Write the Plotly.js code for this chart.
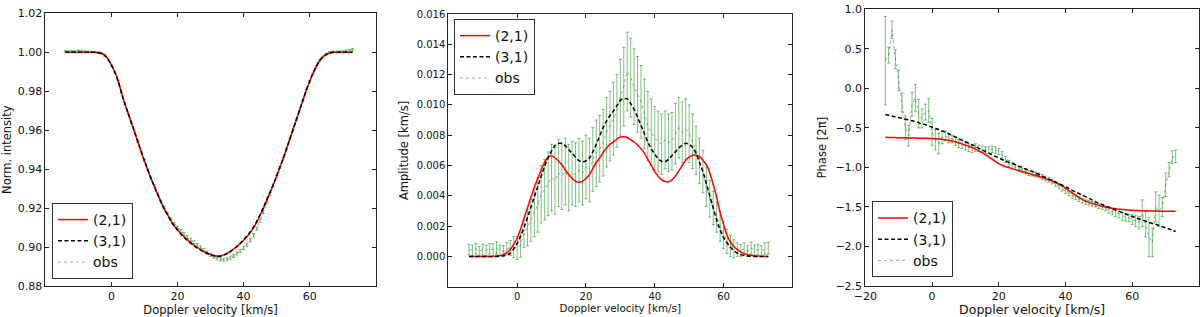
<!DOCTYPE html>
<html>
<head>
<meta charset="utf-8">
<script src="https://cdn.plot.ly/plotly-3.0.1.min.js"></script>
<style>html,body{margin:0;padding:0;background:#fff;}#chart{width:1200px;height:317px;}</style>
</head>
<body>
<div id="chart"></div>
<script>
// Doppler velocity grid [km/s]
const vel = [-14,-13,-12,-11,-10,-9,-8,-7,-6,-5,-4,-3,-2,-1,
0,1,2,3,4,5,6,7,8,9,10,11,12,13,14,15,16,17,18,19,
20,21,22,23,24,25,26,27,28,29,30,31,32,33,34,35,36,37,38,39,
40,41,42,43,44,45,46,47,48,49,50,51,52,53,54,55,56,57,58,59,
60,61,62,63,64,65,66,67,68,69,70,71,72,73];

const seriesNames = ['(2,1)', '(3,1)', 'obs'];

// Panel 1: normalised intensity
const intModel21 = [1.0000,1.0000,1.0000,1.0000,1.0000,1.0000,1.0000,1.0000,1.0000,1.0000,
0.9998,0.9995,0.9985,0.9965,
0.9935,0.9900,0.9855,0.9795,0.9740,0.9690,0.9640,0.9590,0.9540,0.9490,
0.9440,0.9395,0.9350,0.9310,0.9270,0.9230,0.9195,0.9165,0.9135,0.9110,
0.9090,0.9070,0.9052,0.9037,0.9023,0.9010,0.8998,0.8987,0.8977,0.8969,
0.8962,0.8957,0.8954,0.8955,0.8960,0.8968,0.8978,0.8990,0.9003,0.9018,
0.9035,0.9053,0.9073,0.9098,0.9128,0.9162,0.9200,0.9240,0.9280,0.9320,
0.9365,0.9410,0.9455,0.9505,0.9555,0.9605,0.9655,0.9705,0.9755,0.9805,
0.9850,0.9890,0.9925,0.9955,0.9975,0.9988,0.9996,1.0000,1.0000,1.0000,
1.0000,1.0000,1.0000,1.0000];
const intModel31 = [1.0000,1.0000,1.0000,1.0000,1.0000,1.0000,1.0000,1.0000,1.0000,1.0000,
0.9998,0.9994,0.9984,0.9964,
0.9934,0.9898,0.9853,0.9794,0.9739,0.9689,0.9640,0.9591,0.9541,0.9492,
0.9442,0.9397,0.9352,0.9311,0.9271,0.9231,0.9196,0.9165,0.9134,0.9108,
0.9087,0.9067,0.9049,0.9034,0.9020,0.9007,0.8995,0.8985,0.8975,0.8967,
0.8960,0.8955,0.8952,0.8953,0.8958,0.8966,0.8977,0.8989,0.9003,0.9019,
0.9037,0.9056,0.9077,0.9102,0.9132,0.9166,0.9203,0.9242,0.9281,0.9321,
0.9365,0.9410,0.9455,0.9504,0.9554,0.9604,0.9654,0.9705,0.9756,0.9806,
0.9852,0.9892,0.9927,0.9957,0.9977,0.9989,0.9997,1.0000,1.0000,1.0000,
1.0000,1.0000,1.0000,1.0000];
const intObs = [1.0005,1.0004,1.0006,1.0005,1.0008,1.0006,1.0004,1.0002,1.0001,1.0000,
0.9998,0.9993,0.9983,0.9963,
0.9933,0.9898,0.9852,0.9793,0.9738,0.9688,0.9638,0.9590,0.9542,0.9493,
0.9444,0.9398,0.9354,0.9314,0.9275,0.9236,0.9202,0.9173,0.9145,0.9120,
0.9100,0.9082,0.9066,0.9051,0.9037,0.9024,0.9010,0.8998,0.8985,0.8972,
0.8960,0.8950,0.8942,0.8937,0.8935,0.8937,0.8945,0.8955,0.8967,0.8980,
0.8995,0.9012,0.9035,0.9060,0.9095,0.9135,0.9180,0.9228,0.9272,0.9318,
0.9363,0.9408,0.9453,0.9503,0.9553,0.9604,0.9654,0.9704,0.9754,0.9804,
0.9850,0.9891,0.9926,0.9956,0.9976,0.9990,0.9998,1.0001,1.0001,1.0002,
1.0003,1.0006,1.0010,1.0015];
const intErr = [0.0004,0.0004,0.0004,0.0004,0.0004,0.0004,0.0004,0.0004,0.0004,0.0004,
0.0004,0.0004,0.0004,0.0004,
0.0005,0.0005,0.0005,0.0005,0.0005,0.0005,0.0005,0.0005,0.0005,0.0005,
0.0005,0.0005,0.0005,0.0005,0.0005,0.0005,0.0005,0.0005,0.0005,0.0005,
0.0008,0.0008,0.0008,0.0008,0.0008,0.0008,0.0008,0.0008,0.0008,0.0008,
0.0008,0.0008,0.0008,0.0008,0.0008,0.0008,0.0008,0.0008,0.0008,0.0008,
0.0008,0.0008,0.0008,0.0008,0.0008,0.0008,0.0008,0.0008,0.0008,0.0008,
0.0005,0.0005,0.0005,0.0005,0.0005,0.0005,0.0005,0.0005,0.0005,0.0005,
0.0005,0.0005,0.0005,0.0005,0.0005,0.0005,0.0005,0.0005,0.0005,0.0005,
0.0005,0.0005,0.0005,0.0005];

// Panel 2: amplitude [km/s]
const ampModel21 = [0,0,0,0,0,0,0,0,0.00003,0.00006,
0.00012,0.00025,0.00045,0.00080,
0.00120,0.00180,0.00250,0.00320,0.00390,0.00455,0.00515,0.00570,0.00620,0.00655,
0.00665,0.00650,0.00630,0.00605,0.00570,0.00540,0.00515,0.00495,0.00489,0.00495,
0.00515,0.00540,0.00580,0.00620,0.00650,0.00685,0.00715,0.00740,0.00755,0.00775,
0.00788,0.00790,0.00785,0.00770,0.00755,0.00735,0.00710,0.00680,0.00640,0.00600,
0.00560,0.00530,0.00505,0.00495,0.00493,0.00505,0.00530,0.00565,0.00600,0.00635,
0.00655,0.00668,0.00668,0.00660,0.00635,0.00605,0.00550,0.00475,0.00390,0.00290,
0.00210,0.00140,0.00095,0.00065,0.00045,0.00028,0.00018,0.00011,0.00007,0.00004,
0.00002,0.00001,0,0];
const ampModel31 = [0,0,0,0,0,0,0,0,0,0.00002,
0.00005,0.00010,0.00020,0.00050,
0.00085,0.00135,0.00190,0.00255,0.00325,0.00394,0.00460,0.00530,0.00595,0.00650,
0.00695,0.00730,0.00746,0.00745,0.00730,0.00705,0.00680,0.00655,0.00632,0.00625,
0.00630,0.00650,0.00690,0.00740,0.00795,0.00850,0.00895,0.00930,0.00960,0.00995,
0.01030,0.01042,0.01040,0.01010,0.00970,0.00920,0.00865,0.00810,0.00755,0.00710,
0.00675,0.00645,0.00628,0.00625,0.00640,0.00665,0.00690,0.00715,0.00735,0.00746,
0.00740,0.00720,0.00680,0.00620,0.00560,0.00480,0.00400,0.00320,0.00240,0.00175,
0.00125,0.00090,0.00060,0.00038,0.00022,0.00012,0.00006,0.00003,0.00001,0,
0,0,0,0];
const ampObs = [0.00045,0.00040,0.00050,0.00035,0.00045,0.00040,0.00050,0.00045,0.00055,0.00040,
0.00035,0.00050,0.00055,0.00060,
0.00055,0.00075,0.00150,0.00190,0.00240,0.00290,0.00340,0.00410,0.00440,0.00480,
0.00520,0.00500,0.00550,0.00530,0.00560,0.00520,0.00550,0.00540,0.00570,0.00550,
0.00590,0.00570,0.00640,0.00680,0.00710,0.00750,0.00820,0.00860,0.00910,0.00960,
0.01050,0.01120,0.01220,0.01180,0.01120,0.01070,0.01020,0.00940,0.00860,0.00820,
0.00780,0.00760,0.00740,0.00770,0.00750,0.00760,0.00810,0.00850,0.00820,0.00840,
0.00810,0.00760,0.00700,0.00630,0.00560,0.00460,0.00380,0.00320,0.00260,0.00200,
0.00140,0.00100,0.00070,0.00050,0.00045,0.00040,0.00050,0.00035,0.00055,0.00040,
0.00045,0.00035,0.00050,0.00055];
const ampErr = [0.00035,0.00035,0.00035,0.00030,0.00035,0.00035,0.00035,0.00040,0.00040,0.00035,
0.00035,0.00040,0.00050,0.00070,
0.00075,0.00080,0.00090,0.00120,0.00140,0.00160,0.00180,0.00190,0.00200,0.00210,
0.00220,0.00220,0.00220,0.00220,0.00220,0.00220,0.00210,0.00210,0.00210,0.00210,
0.00210,0.00210,0.00210,0.00220,0.00220,0.00220,0.00230,0.00230,0.00240,0.00240,
0.00250,0.00260,0.00260,0.00260,0.00250,0.00250,0.00240,0.00230,0.00230,0.00220,
0.00210,0.00200,0.00200,0.00190,0.00190,0.00190,0.00200,0.00200,0.00200,0.00200,
0.00190,0.00180,0.00160,0.00150,0.00140,0.00130,0.00120,0.00110,0.00100,0.00100,
0.00090,0.00080,0.00070,0.00060,0.00045,0.00040,0.00040,0.00035,0.00040,0.00035,
0.00035,0.00035,0.00040,0.00040];

// Panel 3: phase [2pi]
const phModel21 = [-0.620,-0.621,-0.622,-0.623,-0.624,-0.625,-0.626,-0.627,-0.628,-0.629,
-0.630,-0.631,-0.632,-0.633,
-0.635,-0.637,-0.640,-0.645,-0.650,-0.657,-0.665,-0.675,-0.688,-0.703,
-0.718,-0.733,-0.750,-0.768,-0.790,-0.813,-0.838,-0.866,-0.895,-0.925,
-0.952,-0.973,-0.990,-1.003,-1.015,-1.028,-1.040,-1.052,-1.065,-1.078,
-1.090,-1.102,-1.115,-1.128,-1.142,-1.156,-1.172,-1.190,-1.210,-1.235,
-1.263,-1.292,-1.322,-1.350,-1.380,-1.405,-1.425,-1.442,-1.456,-1.468,
-1.480,-1.492,-1.502,-1.510,-1.517,-1.523,-1.528,-1.532,-1.536,-1.539,
-1.542,-1.544,-1.546,-1.548,-1.549,-1.550,-1.551,-1.552,-1.553,-1.554,
-1.555,-1.555,-1.556,-1.556];
const phModel31 = [-0.330,-0.340,-0.350,-0.360,-0.370,-0.380,-0.390,-0.400,-0.410,-0.420,
-0.435,-0.450,-0.460,-0.475,
-0.490,-0.505,-0.520,-0.540,-0.555,-0.575,-0.595,-0.615,-0.635,-0.655,
-0.675,-0.695,-0.715,-0.735,-0.760,-0.780,-0.800,-0.820,-0.840,-0.860,
-0.880,-0.900,-0.920,-0.935,-0.950,-0.965,-0.985,-1.000,-1.020,-1.035,
-1.050,-1.070,-1.090,-1.110,-1.130,-1.150,-1.165,-1.185,-1.205,-1.225,
-1.245,-1.265,-1.290,-1.310,-1.330,-1.350,-1.370,-1.390,-1.415,-1.435,
-1.455,-1.470,-1.490,-1.505,-1.520,-1.540,-1.555,-1.570,-1.590,-1.605,
-1.620,-1.635,-1.650,-1.665,-1.680,-1.695,-1.710,-1.720,-1.735,-1.750,
-1.765,-1.780,-1.795,-1.810];
const phObs = [0.35,0.42,0.74,0.37,0.10,-0.18,-0.50,-0.60,-0.20,-0.12,
-0.32,-0.38,-0.30,-0.28,
-0.55,-0.65,-0.70,-0.62,-0.60,-0.63,-0.64,-0.67,-0.70,-0.71,
-0.73,-0.75,-0.76,-0.75,-0.76,-0.77,-0.78,-0.78,-0.77,-0.78,
-0.80,-0.84,-0.90,-0.95,-0.98,-1.00,-1.02,-1.04,-1.05,-1.07,
-1.08,-1.09,-1.10,-1.12,-1.14,-1.16,-1.18,-1.21,-1.24,-1.27,
-1.30,-1.33,-1.36,-1.38,-1.40,-1.42,-1.44,-1.45,-1.46,-1.47,
-1.49,-1.50,-1.52,-1.54,-1.56,-1.58,-1.60,-1.62,-1.63,-1.64,
-1.66,-1.68,-1.70,-1.58,-1.72,-1.88,-1.95,-1.50,-1.55,-1.50,
-1.22,-1.03,-0.87,-0.86];
const phErr = [0.56,0.10,0.11,0.12,0.13,0.12,0.15,0.13,0.15,0.17,
0.18,0.12,0.10,0.15,
0.17,0.13,0.13,0.08,0.06,0.06,0.05,0.05,0.05,0.05,
0.05,0.05,0.05,0.05,0.04,0.04,0.04,0.04,0.04,0.04,
0.04,0.04,0.04,0.04,0.04,0.03,0.03,0.03,0.03,0.03,
0.03,0.03,0.03,0.03,0.03,0.03,0.03,0.03,0.03,0.03,
0.03,0.03,0.03,0.03,0.03,0.03,0.03,0.03,0.03,0.03,
0.03,0.03,0.03,0.04,0.04,0.04,0.04,0.05,0.05,0.05,
0.06,0.07,0.08,0.17,0.16,0.25,0.18,0.19,0.20,0.12,
0.15,0.09,0.08,0.08];

const xTicks12 = [0, 20, 40, 60];
const xTicks3 = [-20, 0, 20, 40, 60];
const yTicks1 = [0.88, 0.90, 0.92, 0.94, 0.96, 0.98, 1.00, 1.02];
const yTicks2 = [0.000, 0.002, 0.004, 0.006, 0.008, 0.010, 0.012, 0.014, 0.016];
const yTicks3 = [-2.5, -2.0, -1.5, -1.0, -0.5, 0.0, 0.5, 1.0];

const FONT = 'DejaVu Sans, Liberation Sans, sans-serif';
const RED = '#ff0000';
const BLACK = '#000000';
const GREEN = 'rgba(0,128,0,0.5)';

function panelTraces(xa, ya, leg, m21, m31, obs, err) {
  return [
    {x: vel, y: obs, xaxis: xa, yaxis: ya, legend: leg, name: seriesNames[2], legendrank: 3,
     mode: 'lines', line: {color: GREEN, width: 1, dash: 'dot'},
     error_y: {type: 'data', array: err, visible: true, color: GREEN, thickness: 1, width: 1.5}},
    {x: vel, y: m21, xaxis: xa, yaxis: ya, legend: leg, name: seriesNames[0], legendrank: 1,
     mode: 'lines', line: {color: RED, width: 1.5, shape: 'spline'}},
    {x: vel, y: m31, xaxis: xa, yaxis: ya, legend: leg, name: seriesNames[1], legendrank: 2,
     mode: 'lines', line: {color: BLACK, width: 1.5, dash: '4px,2.5px', shape: 'spline'}}
  ];
}

const data = [].concat(
  panelTraces('x', 'y', 'legend', intModel21, intModel31, intObs, intErr),
  panelTraces('x2', 'y2', 'legend2', ampModel21, ampModel31, ampObs, ampErr),
  panelTraces('x3', 'y3', 'legend3', phModel21, phModel31, phObs, phErr)
);

function axisBase(tickSize) {
  return {showline: true, mirror: 'allticks', ticks: 'inside', ticklen: 4, tickwidth: 1,
    tickcolor: '#222', linecolor: '#222', linewidth: 1, showgrid: false, zeroline: false,
    automargin: false, tickfont: {family: FONT, size: tickSize, color: '#111'}};
}

function legendBox(x, y, yanchor) {
  return {x: x, y: y, xanchor: 'left', yanchor: yanchor, bgcolor: '#ffffff',
    bordercolor: '#333', borderwidth: 1, font: {family: FONT, size: 14, color: '#111'},
    tracegroupgap: 0, itemwidth: 30, traceorder: 'normal'};
}

const layout = {
  width: 1200, height: 317,
  margin: {l: 0, r: 0, t: 0, b: 0},
  paper_bgcolor: '#ffffff', plot_bgcolor: '#ffffff',
  showlegend: true,
  font: {family: FONT, color: '#111'},
  xaxis: Object.assign(axisBase(11), {domain: [0.0378, 0.3131], range: [-20, 80], anchor: 'y',
    tickvals: xTicks12, title: {text: 'Doppler velocity [km/s]', font: {size: 11.5}, standoff: 3}}),
  yaxis: Object.assign(axisBase(11), {domain: [0.0978, 0.958], range: [0.88, 1.02], anchor: 'x',
    tickvals: yTicks1, tickformat: '.2f', title: {text: 'Norm. intensity', font: {size: 11.5}, standoff: 6}}),
  xaxis2: Object.assign(axisBase(10), {domain: [0.3736, 0.6603], range: [-20, 80], anchor: 'y2',
    tickvals: xTicks12, title: {text: 'Doppler velocity [km/s]', font: {size: 10.4}, standoff: 3}}),
  yaxis2: Object.assign(axisBase(10), {domain: [0.0956, 0.9558], range: [-0.002, 0.016], anchor: 'x2',
    tickvals: yTicks2, tickformat: '.3f', title: {text: 'Amplitude [km/s]', font: {size: 11.5}, standoff: 5}}),
  xaxis3: Object.assign(axisBase(11), {domain: [0.7211, 0.9992], range: [-20, 80], anchor: 'y3',
    tickvals: xTicks3, title: {text: 'Doppler velocity [km/s]', font: {size: 12.5}, standoff: 2}}),
  yaxis3: Object.assign(axisBase(11), {domain: [0.0978, 0.9707], range: [-2.5, 1.0], anchor: 'x3',
    tickvals: yTicks3, tickformat: '.1f', title: {text: 'Phase [2π]', font: {size: 11.6}, standoff: 6}}),
  legend: legendBox(0.0433, 0.12, 'bottom'),
  legend2: legendBox(0.3783, 0.940, 'top'),
  legend3: legendBox(0.7267, 0.125, 'bottom')
};

Plotly.newPlot('chart', data, layout, {staticPlot: true, displayModeBar: false});
</script>
</body>
</html>
